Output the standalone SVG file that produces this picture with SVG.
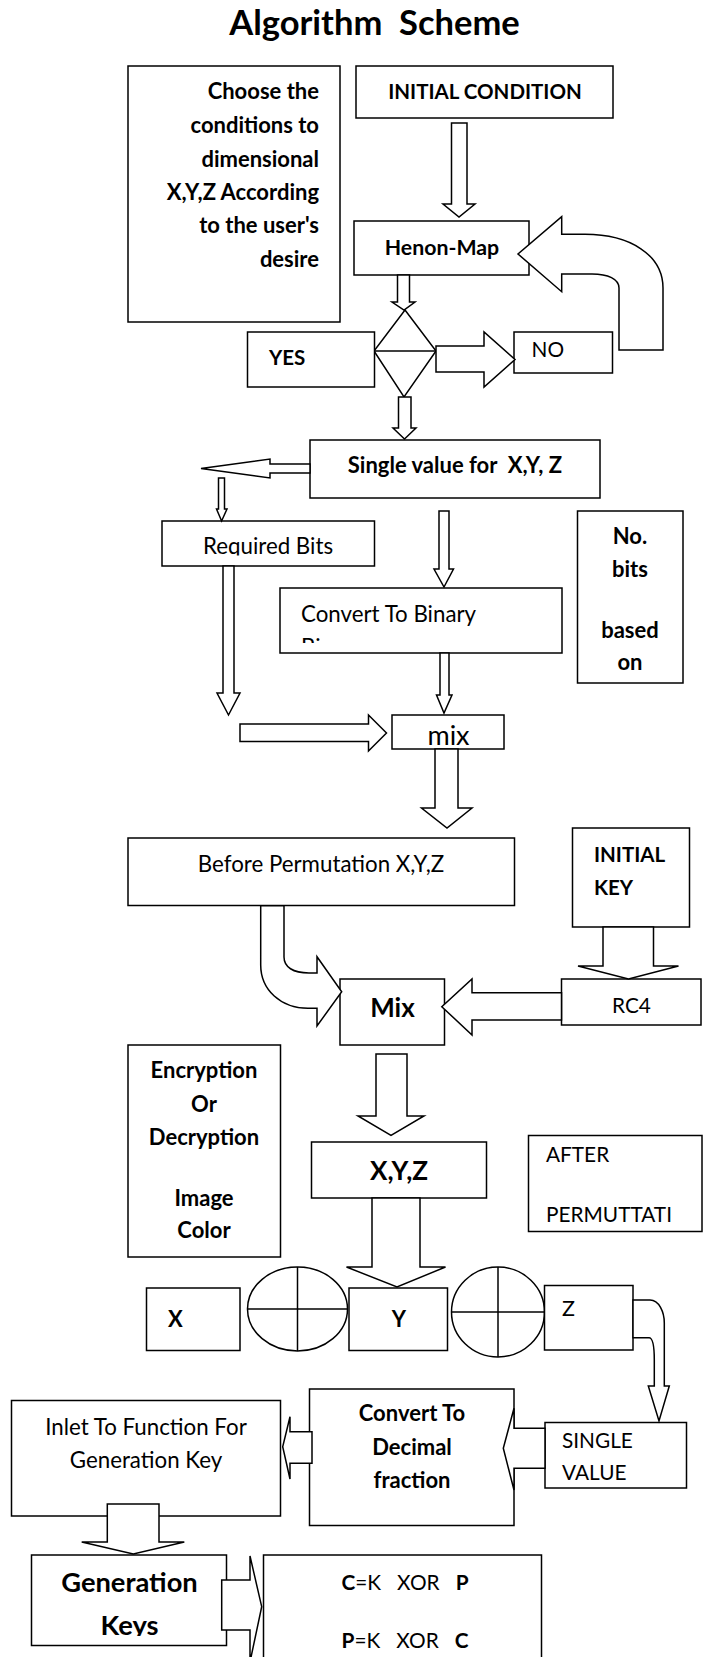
<svg xmlns="http://www.w3.org/2000/svg" width="709" height="1657" viewBox="0 0 709 1657">
  <style>
    .box { fill: #fff; stroke: #000; stroke-width: 1.5; }
    .arrow { fill: #fff; stroke: #000; stroke-width: 1.5; stroke-linejoin: miter; }
    .ln { stroke: #000; stroke-width: 1.5; fill: none; }
    text { font-family: Lato, "Open Sans", "Liberation Sans", sans-serif; fill: #000; }
    .b { font-weight: bold; font-size: 22px; }
    .r { font-weight: normal; font-size: 22.3px; }
    .bc { font-weight: bold; font-size: 20.5px; }
    .rc { font-weight: normal; font-size: 20.8px; }
    .big { font-weight: bold; font-size: 22px; }
    .mid { text-anchor: middle; }
    .end { text-anchor: end; }
  </style>
  <defs>
    <clipPath id="clipReq"><rect x="162" y="521" width="213" height="34.5"/></clipPath>
    <clipPath id="clipBin"><rect x="280" y="588" width="282" height="55"/></clipPath>
    <clipPath id="clipKeys"><rect x="31" y="1555" width="196" height="81"/></clipPath>
  </defs>
  <rect width="709" height="1657" fill="#fff"/>

  <text x="374.5" y="35" class="mid" font-weight="bold" font-size="34.5" xml:space="preserve">Algorithm  Scheme</text>

  <g id="conditions">
    <rect class="box" x="128" y="66" width="212" height="256"/>
    <text class="b end" x="319" y="99">Choose the</text>
    <text class="b end" x="319" y="133">conditions to</text>
    <text class="b end" x="319" y="167">dimensional</text>
    <text class="b end" x="319" y="200">X,Y,Z According</text>
    <text class="b end" x="319" y="233">to the user's</text>
    <text class="b end" x="319" y="267">desire</text>
  </g>

  <g id="initial-condition">
    <rect class="box" x="356" y="66" width="257" height="52"/>
    <text class="bc mid" x="485" y="99">INITIAL CONDITION</text>
  </g>

  <g id="henon-map">
    <rect class="box" x="354" y="221" width="175" height="54"/>
    <text class="mid" x="442" y="255" font-weight="bold" font-size="21.3">Henon-Map</text>
  </g>

  <g id="decision">
    <polygon class="box" points="405,310 436,351 404,397 374,351"/>
    <line class="ln" x1="374" y1="351" x2="436" y2="351"/>
  </g>

  <g id="yes">
    <rect class="box" x="247.5" y="332" width="127" height="55"/>
    <text class="bc" x="269" y="365">YES</text>
  </g>

  <g id="no">
    <rect class="box" x="514" y="332" width="98.5" height="41"/>
    <text class="rc" x="531.5" y="357">NO</text>
  </g>

  <g id="single-value">
    <rect class="box" x="310" y="440" width="290" height="58"/>
    <text class="b mid" x="455" y="473" xml:space="preserve">Single value for  X,Y, Z</text>
  </g>

  <g id="required-bits">
    <rect class="box" x="162" y="521" width="212.5" height="45"/>
    <text class="r mid" x="268" y="554" clip-path="url(#clipReq)">Required Bits</text>
  </g>

  <g id="convert-binary">
    <rect class="box" x="280" y="588" width="282" height="65"/>
    <g clip-path="url(#clipBin)">
      <text class="r" x="301" y="622">Convert To Binary</text>
      <text class="r" x="301" y="655">Binary</text>
    </g>
  </g>

  <g id="no-bits">
    <rect class="box" x="577.5" y="511" width="105.5" height="172"/>
    <text class="b mid" x="630" y="544">No.</text>
    <text class="b mid" x="630" y="577">bits</text>
    <text class="b mid" x="630" y="638">based</text>
    <text class="b mid" x="630" y="670">on</text>
  </g>

  <g id="mix-bits">
    <rect class="box" x="392" y="715" width="112" height="34"/>
    <text class="mid" x="448.5" y="745" font-size="27">mix</text>
  </g>

  <g id="before-permutation">
    <rect class="box" x="128" y="838" width="386.5" height="67.5"/>
    <text class="r mid" x="321" y="872">Before Permutation X,Y,Z</text>
  </g>

  <g id="initial-key">
    <rect class="box" x="572.5" y="828" width="117" height="99"/>
    <text class="bc" x="594" y="862">INITIAL</text>
    <text class="bc" x="594" y="895">KEY</text>
  </g>

  <g id="rc4">
    <rect class="box" x="561.5" y="979" width="139.5" height="46"/>
    <text class="rc mid" x="631.5" y="1013">RC4</text>
  </g>

  <g id="mix-key">
    <rect class="box" x="340" y="979" width="104.5" height="66"/>
    <text class="mid" x="392.5" y="1017" font-weight="bold" font-size="26">Mix</text>
  </g>

  <g id="encryption">
    <rect class="box" x="128" y="1045" width="152.5" height="212"/>
    <text class="b mid" x="204" y="1078">Encryption</text>
    <text class="b mid" x="204" y="1112">Or</text>
    <text class="b mid" x="204" y="1145">Decryption</text>
    <text class="b mid" x="204" y="1206">Image</text>
    <text class="b mid" x="204" y="1238">Color</text>
  </g>

  <g id="xyz">
    <rect class="box" x="311.5" y="1142" width="175" height="56"/>
    <text class="mid" x="399" y="1180" font-weight="bold" font-size="26">X,Y,Z</text>
  </g>

  <g id="after-permutation">
    <rect class="box" x="528.5" y="1135.5" width="173.5" height="96"/>
    <text class="rc" x="546" y="1161.5">AFTER</text>
    <text class="rc" x="546" y="1221.5">PERMUTTATI</text>
  </g>

  <g id="x">
    <rect class="box" x="146.5" y="1288" width="93.5" height="62.5"/>
    <text class="big" x="168" y="1326.5">X</text>
  </g>

  <g id="xor-1">
    <ellipse class="box" cx="297.5" cy="1309" rx="50" ry="42"/>
    <line class="ln" x1="297.5" y1="1267" x2="297.5" y2="1351"/>
    <line class="ln" x1="247.5" y1="1309" x2="347.5" y2="1309"/>
  </g>

  <g id="y">
    <rect class="box" x="349" y="1288" width="98.5" height="62.5"/>
    <text class="big mid" x="399" y="1326.5">Y</text>
  </g>

  <g id="xor-2">
    <ellipse class="box" cx="498" cy="1312" rx="46.5" ry="45"/>
    <line class="ln" x1="498" y1="1267" x2="498" y2="1357"/>
    <line class="ln" x1="451.5" y1="1312" x2="544.5" y2="1312"/>
  </g>

  <g id="z">
    <rect class="box" x="544.5" y="1285.5" width="88.5" height="64.5"/>
    <text x="562" y="1316" font-size="21.5">Z</text>
  </g>

  <g id="single-value-2">
    <rect class="box" x="545" y="1422.5" width="141.5" height="65.5"/>
    <text class="rc" x="562" y="1448">SINGLE</text>
    <text class="rc" x="562" y="1480">VALUE</text>
  </g>

  <g id="convert-decimal">
    <rect class="box" x="309.5" y="1389" width="204.5" height="136.5"/>
    <text class="b mid" x="412" y="1421">Convert To</text>
    <text class="b mid" x="412" y="1455">Decimal</text>
    <text class="b mid" x="412" y="1488">fraction</text>
  </g>

  <g id="inlet">
    <rect class="box" x="11.5" y="1400.5" width="269" height="115.5"/>
    <text class="r mid" x="146" y="1435">Inlet To Function For</text>
    <text class="r mid" x="146" y="1468">Generation Key</text>
  </g>

  <g id="generation-keys">
    <rect class="box" x="31.5" y="1555" width="195" height="90.5"/>
    <g clip-path="url(#clipKeys)">
      <text class="mid" x="129.5" y="1592" font-weight="bold" font-size="27.3">Generation</text>
      <text class="mid" x="129.5" y="1635" font-weight="bold" font-size="27.3">Keys</text>
    </g>
  </g>

  <g id="xor-formulas">
    <rect class="box" x="263.5" y="1555" width="278" height="110"/>
    <text class="rc" x="341.5" y="1590" font-size="20" xml:space="preserve"><tspan font-weight="bold">C</tspan>=K   XOR   <tspan font-weight="bold">P</tspan></text>
    <text class="rc" x="341.5" y="1648" font-size="20" xml:space="preserve"><tspan font-weight="bold">P</tspan>=K   XOR   <tspan font-weight="bold">C</tspan></text>
  </g>

  <g id="connectors">
    <!-- initial condition to Henon map -->
    <polygon class="arrow" points="451.5,123 467,123 467,204 475,204 459,217 443,204 451.5,204"/>
    <!-- Henon map to decision -->
    <polygon class="arrow" points="397.5,275 409.5,275 409.5,302 415,302 404,310 392,302 397.5,302"/>
    <!-- decision to NO -->
    <polygon class="arrow" points="436,346 484,346 484,332 515,359.5 484,387 484,372 436,372"/>
    <!-- NO loops back to Henon map -->
    <path class="arrow" d="M619,350 L619,288 C619,279 608,274 592,274 L561.7,274 L561.7,291.7 L518,254 L561.7,216.7 L561.7,234.3 L585,234.3 C630,234.3 663,255 663,288 L663,350 Z"/>
    <!-- decision to single value -->
    <polygon class="arrow" points="398.5,397 411,397 411,428 416,428 404.5,439 393,428 398.5,428"/>
    <!-- single value branches left -->
    <polygon class="arrow" points="310,464 270,464 270,459 201,468.5 270,478 270,473 310,473"/>
    <!-- down to required bits -->
    <polygon class="arrow" points="218.5,478 224.5,478 224.5,509 227,509 221.6,521 216.5,509 218.5,509"/>
    <!-- single value to convert to binary -->
    <polygon class="arrow" points="439,511 449,511 449,569 453.5,569 444,587 434,569 439,569"/>
    <!-- required bits down -->
    <polygon class="arrow" points="223,566 234,566 234,693 240,693 228.5,715 217,693 223,693"/>
    <!-- into mix from the left -->
    <polygon class="arrow" points="240,724 368.5,724 368.5,715 386.5,733 368.5,751 368.5,741.5 240,741.5"/>
    <!-- convert to binary to mix -->
    <polygon class="arrow" points="440,653 449,653 449,695 452,695 444,713 436.5,695 440,695"/>
    <!-- mix to before permutation -->
    <polygon class="arrow" points="435,749 458,749 458,808 472,808 447,828 421.5,808 435,808"/>
    <!-- before permutation curves into Mix -->
    <path class="arrow" d="M260.7,905.7 L260.7,965 C260.7,990 281,1008.3 308,1008.3 L317,1008.3 L317,1026 L341.7,991.7 L317,956.7 L317,973 L309,973 C293,973 284,967 284,957 L284,905.7 Z"/>
    <!-- initial key to RC4 -->
    <polygon class="arrow" points="603,927 653.5,927 653.5,966 678.5,966 628.5,979 578,966 603,966"/>
    <!-- RC4 to Mix -->
    <polygon class="arrow" points="561.5,992.7 472,992.7 472,979 441.8,1006.7 472,1035 472,1020 561.5,1020"/>
    <!-- Mix to X,Y,Z -->
    <polygon class="arrow" points="376,1054 407,1054 407,1116 424,1116 391,1135.5 358,1116 376,1116"/>
    <!-- X,Y,Z to Y -->
    <polygon class="arrow" points="372,1198 420,1198 420,1267 445.5,1267 397,1287 346.5,1267 372,1267"/>
    <!-- Z bends down to single value -->
    <path class="arrow" d="M633,1300 L650,1300 C659,1300 664.3,1312 664.3,1323 L664.3,1386 L669.3,1386 L659,1421 L648.3,1386 L654.3,1386 L654.3,1360 C654.3,1346 652.5,1337.7 649,1337.7 L633,1337.7 Z"/>
    <!-- single value to convert to decimal -->
    <polygon class="arrow" points="545,1428.3 514,1428.3 514,1408.3 503.3,1448.3 514,1490 514,1468.3 545,1468.3"/>
    <!-- convert to decimal to inlet -->
    <polygon class="arrow" points="312,1431.7 290,1431.7 290,1416.7 282.7,1446.7 290,1479 290,1463.3 312,1463.3"/>
    <!-- inlet to generation keys -->
    <polygon class="arrow" points="107.3,1504 159,1504 159,1542 184.3,1542 133.3,1554 81.7,1542 107.3,1542"/>
    <!-- generation keys to formulas -->
    <polygon class="arrow" points="221.7,1580 250,1580 250,1556 261.7,1606.7 250,1662 250,1630 221.7,1630"/>
  </g>
</svg>
